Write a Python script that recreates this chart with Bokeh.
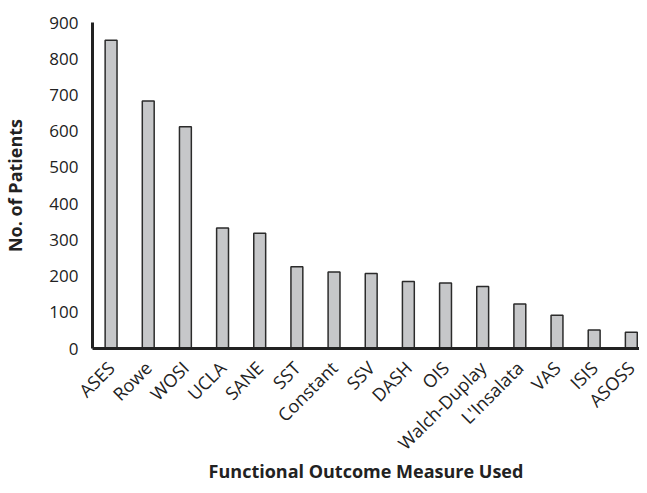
from bokeh.plotting import figure
from bokeh.models import Range1d, FixedTicker
from bokeh.embed import file_html
from bokeh.resources import INLINE

categories = ["ASES", "Rowe", "WOSI", "UCLA", "SANE", "SST", "Constant", "SSV",
              "DASH", "OIS", "Walch-Duplay", "L'Insalata", "VAS", "ISIS", "ASOSS"]
patients = [851, 683, 612, 333, 318, 226, 211, 207, 185, 181, 171, 123, 92, 51, 45]
y_ticks = [0, 100, 200, 300, 400, 500, 600, 700, 800, 900]
x_title = "Functional Outcome Measure Used"
y_title = "No. of Patients"

xs = [i + 0.5 for i in range(len(categories))]

p = figure(width=639, height=485, output_backend="svg", toolbar_location=None,
           x_range=Range1d(0, 14.72), y_range=Range1d(0, 900),
           min_border_left=84, min_border_right=0, min_border_top=22,
           min_border_bottom=137)

p.vbar(x=xs, top=patients, width=0.32, bottom=0,
       fill_color="#c6c7c9", line_color="#2b2b2b", line_width=1.5)

p.xgrid.visible = False
p.ygrid.visible = False
p.outline_line_color = None
p.background_fill_color = "white"

p.xaxis.ticker = FixedTicker(ticks=xs)
p.xaxis.major_label_overrides = {x: c for x, c in zip(xs, categories)}
p.xaxis.major_label_orientation = 0.785398
p.xaxis.major_label_text_font = "Open Sans"
p.xaxis.major_label_text_font_size = "18px"
p.xaxis.major_label_text_color = "#222222"
p.xaxis.major_label_standoff = 10
p.xaxis.major_tick_line_color = None
p.xaxis.minor_tick_line_color = None
p.xaxis.axis_line_width = 3
p.xaxis.axis_line_color = "#222222"
p.xaxis.axis_label = x_title
p.xaxis.axis_label_text_font = "Open Sans"
p.xaxis.axis_label_text_font_style = "bold"
p.xaxis.axis_label_text_font_size = "18px"
p.xaxis.axis_label_text_color = "#222222"
p.xaxis.axis_label_standoff = -7

p.yaxis.ticker = FixedTicker(ticks=y_ticks)
p.yaxis.major_label_text_font = "Open Sans"
p.yaxis.major_label_text_font_size = "17px"
p.yaxis.major_label_text_color = "#222222"
p.yaxis.major_label_standoff = 8
p.yaxis.major_tick_line_color = None
p.yaxis.minor_tick_line_color = None
p.yaxis.axis_line_width = 3
p.yaxis.axis_line_color = "#222222"
p.yaxis.axis_label = y_title
p.yaxis.axis_label_text_font = "Open Sans"
p.yaxis.axis_label_text_font_style = "bold"
p.yaxis.axis_label_text_font_size = "18px"
p.yaxis.axis_label_text_color = "#222222"
p.yaxis.axis_label_standoff = 19

open("out.html", "w").write(file_html(p, INLINE))
